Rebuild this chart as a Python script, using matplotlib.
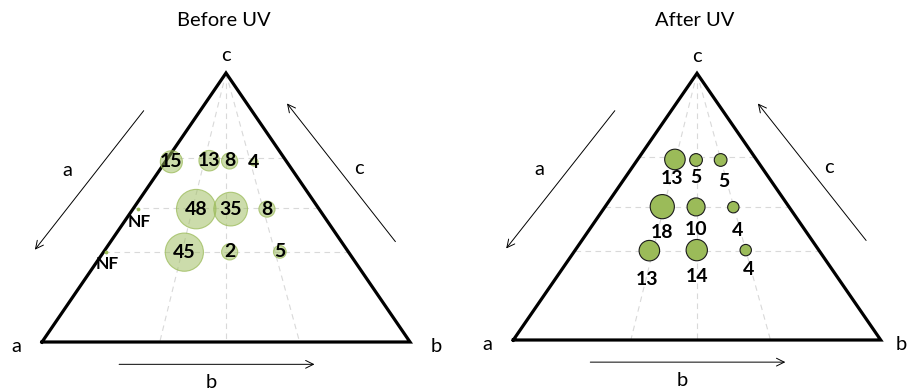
"""Ternary bubble charts: before / after UV."""

import matplotlib.pyplot as plt

plt.rcParams["font.family"] = ["Lato", "DejaVu Sans"]

# grid of the ternary plot (c level, b share of a+b)
GRID_C = [0.685, 0.497, 0.335]
GRID_SHARE = [0.32, 0.50, 0.70]

# Before UV
before_labels = ["15", "13", "8", "4", "48", "35", "8", "45", "2", "5"]
before_bubble = [15, 13, 8, 2, 48, 35, 8, 45, 8, 5]
before_c = [0.670, 0.674, 0.673, 0.669, 0.494, 0.494, 0.494, 0.334, 0.335, 0.335]
before_share = [0.05, 0.36, 0.53, 0.73, 0.34, 0.525, 0.72, 0.33, 0.515, 0.72]
nf_c = [0.494, 0.336]
nf_share = [0.025, 0.009]

# After UV
after_values = [13, 5, 5, 18, 10, 4, 13, 14, 4]
after_c = [0.677, 0.675, 0.675, 0.500, 0.499, 0.498, 0.335, 0.337, 0.337]
after_share = [0.314, 0.492, 0.698, 0.311, 0.495, 0.697, 0.305, 0.499, 0.700]

# label offsets below the after-bubbles (pixels)
after_label_dx = [-3, 0, 3, 0, 0, 4, -2, 0, 3]
after_label_dy = [-19, -18, -22, -26, -23, -23, -29, -26, -19]

SIZE_K = 16.8  # marker area (pt^2) per unit value
LIGHT = "#9BBB59"


def to_xy(c, share):
    """ternary (c, b/(a+b)) -> x, y in triangle (0,0)-(1,0)-(0.5,1)"""
    x = [ci / 2 + (1 - ci) * s for ci, s in zip(c, share)]
    return x, list(c)


def setup_panel(ax, x0, width, ybase, height, title, b_x=1.07):
    fw, fh = 909, 392
    ax_x0 = ax.get_position().x0 * fw
    ax_w = ax.get_position().width * fw
    ax.set_xlim((ax_x0 - x0) / width, (ax_x0 + ax_w - x0) / width)
    ax.set_ylim((ybase - fh) / height, ybase / height)
    ax.axis("off")

    # grid
    for c in GRID_C:
        ax.plot([c / 2, 1 - c / 2], [c, c], ls=(0, (5, 4)), color="#D9D9D9", lw=0.8, zorder=1)
    for s in GRID_SHARE:
        ax.plot([0.5, s], [1, 0], ls=(0, (5, 4)), color="#D9D9D9", lw=0.8, zorder=1)

    # triangle
    ax.plot([0, 1, 0.5, 0], [0, 0, 1, 0], color="black", lw=2.3, zorder=2,
            solid_joinstyle="miter", clip_on=False)

    arrow = dict(arrowstyle="->", color="black", lw=0.7, mutation_scale=14)
    ax.annotate("", xy=(-0.024, 0.335), xytext=(0.281, 0.868), arrowprops=arrow)
    ax.annotate("", xy=(0.661, 0.895), xytext=(0.965, 0.365), arrowprops=arrow)
    ax.annotate("", xy=(0.748, -0.083), xytext=(0.202, -0.083), arrowprops=arrow)

    fs = 14.5
    ax.text(0.07, 0.638, "a", fontsize=fs, ha="center", va="center")
    ax.text(0.86, 0.646, "c", fontsize=fs, ha="center", va="center")
    ax.text(0.46, -0.152, "b", fontsize=fs, ha="center", va="center")
    ax.text(0.5, 1.064, "c", fontsize=fs, ha="center", va="center")
    ax.text(-0.071, -0.016, "a", fontsize=fs, ha="center", va="center")
    ax.text(b_x, -0.016, "b", fontsize=fs, ha="center", va="center")
    ax.text(0.495, 1.197, title, fontsize=fs, ha="center", va="center")


fig = plt.figure(figsize=(9.09, 3.92), dpi=100)
ax1 = fig.add_axes([0, 0, 0.5, 1])
ax2 = fig.add_axes([0.5, 0, 0.5, 1])
setup_panel(ax1, 42, 368, 342, 269, "Before UV")
setup_panel(ax2, 513.3, 367.4, 340, 266.7, "After UV", b_x=1.057)

# Before UV bubbles
bx, by = to_xy(before_c, before_share)
ax1.scatter(bx, by, s=[SIZE_K * v for v in before_bubble], facecolor=(0.608, 0.733, 0.349, 0.5),
            edgecolor=(0.608, 0.733, 0.349, 0.75), linewidth=0.8, zorder=3)
for x, y, lab in zip(bx, by, before_labels):
    ax1.text(x, y, lab, fontsize=14, fontweight="bold", ha="center", va="center", zorder=4)

nx, ny = to_xy(nf_c, nf_share)
ax1.scatter(nx, ny, s=3, color=LIGHT, zorder=3)
for x, y in zip(nx, ny):
    ax1.annotate("NF", (x, y), xytext=(1, -9), textcoords="offset points", fontsize=12.5,
                 fontweight="bold", ha="center", va="center", zorder=4)

# After UV bubbles
ax_, ay_ = to_xy(after_c, after_share)
ax2.scatter(ax_, ay_, s=[SIZE_K * v for v in after_values], facecolor=LIGHT,
            edgecolor="#1A1A1A", linewidth=0.8, zorder=3)
for x, y, v, dx, dy in zip(ax_, ay_, after_values, after_label_dx, after_label_dy):
    ax2.annotate(str(v), (x, y), xytext=(dx * 0.72, dy * 0.72), textcoords="offset points",
                 fontsize=14, fontweight="bold", ha="center", va="center", zorder=4)

fig.savefig("out.png", dpi=100)
